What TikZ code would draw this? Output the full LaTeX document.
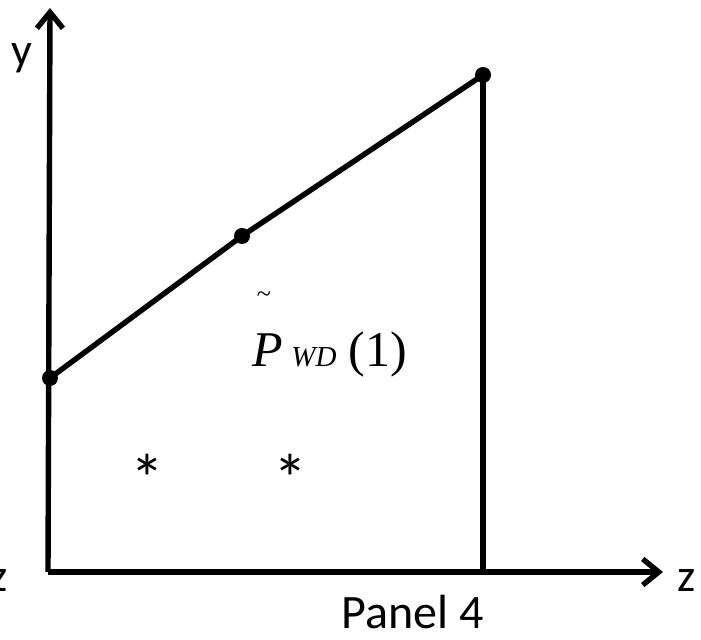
\documentclass[tikz,border=0pt]{standalone}
\usepackage{fontspec}
\setmainfont{Carlito}
\newfontfamily\timesf{Liberation Serif}
\usetikzlibrary{arrows.meta}
\begin{document}
\begin{tikzpicture}[x=0.5pt,y=-0.5pt,
  axis/.style={line width=2.7pt,-{Straight Barb[length=8pt,width=13pt,line width=2.7pt]}},
  edge/.style={line width=2.7pt},
  dot/.style={circle,fill=black,inner sep=0pt,minimum size=8pt},
  lbl/.style={font=\fontsize{23}{25}\selectfont,inner sep=0pt},
  star/.style={font=\fontsize{34}{36}\selectfont,inner sep=0pt,anchor=north}]
\useasboundingbox (0,0) rectangle (701,640);
\coordinate (ytip) at (50,8);
\coordinate (ztip) at (663,572);
\coordinate (B) at (483,572);
\draw[axis] (48,572) -- (ytip);
\draw[axis] (48,572) -- (ztip);
\node[dot] (p1) at (50,378) {};
\node[dot] (p2) at (242,236) {};
\node[dot] (p3) at (483,75) {};
\draw[edge] (p1.center) -- (p2.center) -- (p3.center);
\draw[edge] (p3.center) -- (B);
\node[lbl,anchor=base] (ylab) at (22,66) {y};
\node[lbl,anchor=base] (zlab) at (687,591) {z};
\node[lbl,anchor=base east] (zleft) at (8,591) {z};
\node[lbl,anchor=base east,font=\fontsize{24}{26}\selectfont] (panel) at (484,628) {Panel 4};
\node[star] (s1) at (147,454) {*};
\node[star] (s2) at (290,454) {*};
\node[inner sep=0pt,anchor=base west,font=\timesf\fontsize{25}{27}\selectfont\itshape] (P) at (252,367) {P};
\node[inner sep=0pt,anchor=base west,font=\timesf\fontsize{14.5}{16}\selectfont\itshape] (WD) at (291,367) {WD};
\node[inner sep=0pt,anchor=base west,font=\timesf\fontsize{25}{27}\selectfont] (one) at (348,367) {(1)};
\node[inner sep=0pt,font=\timesf\fontsize{13}{15}\selectfont] (tl) at (264,297) {\char"007E};
\end{tikzpicture}
\end{document}
